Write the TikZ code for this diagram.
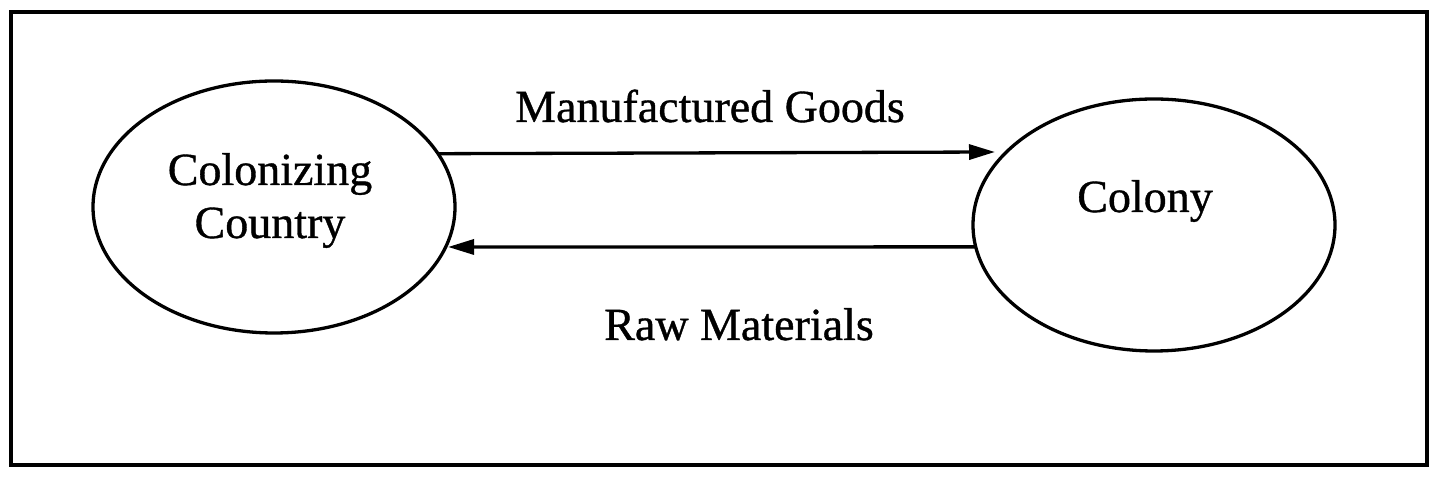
\documentclass[tikz,border=0pt]{standalone}
\usepackage{fontspec}
\setmainfont{Liberation Serif}[FakeBold=0.8]
\usetikzlibrary{shapes.geometric,arrows.meta}
\begin{document}
\begin{tikzpicture}[x=1pt,y=1pt,
  oval/.style={ellipse,draw,line width=3.3pt,minimum width=362pt,minimum height=252pt,inner sep=0pt,outer sep=0pt},
  txt/.style={font=\fontsize{46}{55}\selectfont,anchor=base,inner sep=0pt},
  flow/.style={line width=3.3pt,-{Triangle[length=26pt,width=15pt]}}]
\useasboundingbox (0,0) rectangle (1440,486);
\draw[line width=4.8pt] (11,21) rectangle (1427,474);
\node[oval] (cc) at (274,279) {};
\node[oval] (co) at (1154,261) {};
\node[txt] (cct1) at (270,301) {Colonizing};
\node[txt] (cct2) at (270,248) {Country};
\node[txt] (cot) at (1145,274) {Colony};
\node[txt] (mg) at (710,364) {Manufactured Goods};
\node[txt] (rm) at (739,146) {Raw Materials};
\coordinate (mgEnd) at (995,334);
\coordinate (rmEnd) at (448,239);
\draw[flow] (cc.18.6) -- (mgEnd);
\draw[flow] (co.187.05) -- (rmEnd);
\end{tikzpicture}
\end{document}
